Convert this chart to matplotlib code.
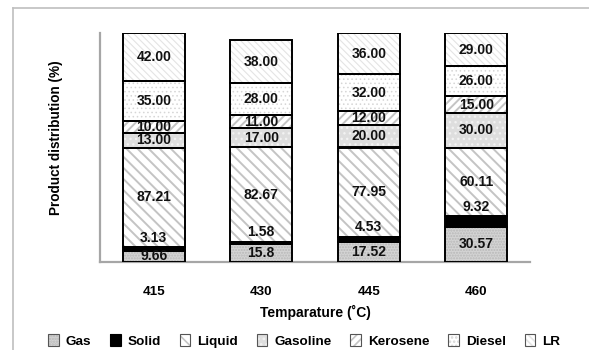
import matplotlib
matplotlib.use("Agg")
import matplotlib.pyplot as plt
from matplotlib.patches import Patch
from matplotlib.lines import Line2D
from matplotlib.legend_handler import HandlerTuple
import numpy as np

plt.rcParams['font.family'] = ['Liberation Sans', 'DejaVu Sans']
plt.rcParams['font.weight'] = 'bold'
plt.rcParams['hatch.linewidth'] = 1.2

# Product yields (%) at each pyrolysis temperature
temps = ['415', '430', '445', '460']
gas = [9.66, 15.8, 17.52, 30.57]
solid = [3.13, 1.58, 4.53, 9.32]
liquid = [87.21, 82.67, 77.95, 60.11]
gasoline = [13.00, 17.00, 20.00, 30.00]
kerosene = [10.00, 11.00, 12.00, 15.00]
diesel = [35.00, 28.00, 32.00, 26.00]
lr = [42.00, 38.00, 36.00, 29.00]

series_names = ['Gas', 'Solid', 'Liquid', 'Gasoline', 'Kerosene', 'Diesel', 'LR']
series_vals = [gas, solid, liquid, gasoline, kerosene, diesel, lr]

# fill colour, hatch pattern, hatch colour, hatch width, label format
styles = {
    'Gas':      ('#d4d4d4', '......', '#b8b8b8', 1.0, '{:g}'),
    'Solid':    ('#000000', '',       '#000000', 1.0, '{:g}'),
    'Liquid':   ('#ffffff', '\\\\\\', '#c4c4c4', 1.4, '{:g}'),
    'Gasoline': ('#dedede', '...',    '#f2f2f2', 1.0, '{:.2f}'),
    'Kerosene': ('#ffffff', '////',   '#c4c4c4', 1.4, '{:.2f}'),
    'Diesel':   ('#ffffff', '....',   '#d6d6d6', 0.6, '{:.2f}'),
    'LR':       ('#ffffff', '\\\\\\\\\\', '#e4e4e4', 0.8, '{:.2f}'),
}

fig = plt.figure(figsize=(5.89, 3.5), dpi=100)
W, H = 589, 350
ax = fig.add_axes([100 / W, 1 - 262 / H, 430 / W, 229 / H])

x = np.arange(len(temps))
width = 0.58
bottom = np.zeros(len(temps))

for name, vals in zip(series_names, series_vals):
    face, hatch, hcol, hlw, fmt = styles[name]
    vals = np.asarray(vals, dtype=float)
    with plt.rc_context({'hatch.linewidth': hlw}):
        ax.bar(x, vals, width, bottom=bottom, color=face, hatch=hatch,
               edgecolor=hcol, linewidth=0, zorder=2)
    ax.bar(x, vals, width, bottom=bottom, fill=False,
           edgecolor='black', linewidth=1.4, zorder=3)
    for xi, b, v in zip(x, bottom, vals):
        txt = fmt.format(v)
        if name == 'Solid':
            ax.annotate(txt, (xi, b + v), xytext=(0, 2), textcoords='offset points',
                        ha='center', va='bottom', fontsize=10, fontweight='bold',
                        color='#111111', zorder=4)
        else:
            ax.text(xi, b + v / 2, txt, ha='center', va='center',
                    fontsize=10, fontweight='bold', color='#111111', zorder=4)
    bottom = bottom + vals

ax.set_xlim(-0.5, len(temps) - 0.5)
ax.set_ylim(0, 200)
ax.set_xticks(x)
ax.set_xticklabels(temps, fontsize=9.7, fontweight='bold')
ax.tick_params(axis='x', length=0, pad=17)
ax.set_yticks([])
for s in ['top', 'right']:
    ax.spines[s].set_visible(False)
for s in ['left', 'bottom']:
    ax.spines[s].set_color('#a6a6a6')
    ax.spines[s].set_linewidth(1.6)

fig.text(315 / W, 1 - 312 / H, 'Temparature (˚C)', ha='center', va='center',
         fontsize=10, fontweight='bold')
fig.text(56 / W, 1 - 138 / H, 'Product distribution (%)', ha='center', va='center',
         rotation=90, fontsize=9.8, fontweight='bold')

handles = []
for name in series_names:
    face, hatch, hcol, hlw, fmt = styles[name]
    handles.append((Patch(facecolor=face, hatch=hatch, edgecolor=hcol, linewidth=0),
                    Patch(fill=False, edgecolor='#555555' if name != 'Solid' else 'black',
                          linewidth=0.8)))
fig.legend(handles, series_names, handler_map={tuple: HandlerTuple(ndivide=1, pad=0)},
           loc='center', bbox_to_anchor=(304 / W, 1 - 341 / H), ncol=7, frameon=False,
           handlelength=0.8, handleheight=0.95, handletextpad=0.5, columnspacing=1.4,
           prop={'size': 9.7, 'weight': 'bold'})

# chart-area border
border_col = '#bfbfbf'
fig.add_artist(Line2D([13 / W, 13 / W], [0, 1 - 8 / H], color=border_col, lw=1.2,
                      transform=fig.transFigure))
fig.add_artist(Line2D([13 / W, 1], [1 - 8 / H, 1 - 8 / H], color=border_col, lw=1.2,
                      transform=fig.transFigure))

fig.savefig('out.png', dpi=100)
